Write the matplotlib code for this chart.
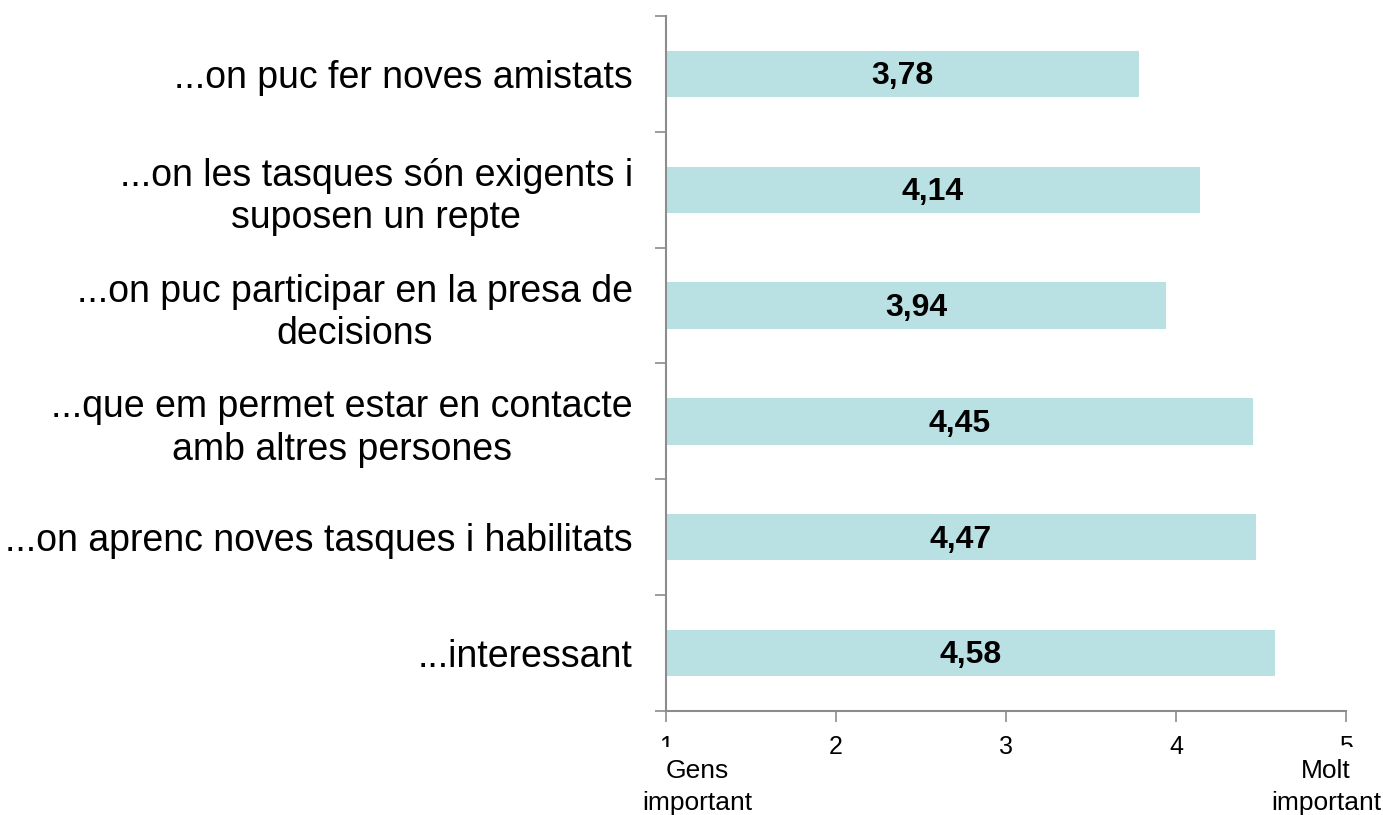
import matplotlib.pyplot as plt
import numpy as np

# Data
categories = [
    "...on puc fer noves amistats",
    "...on les tasques són exigents i\nsuposen un repte",
    "...on puc participar en la presa de\ndecisions",
    "...que em permet estar en contacte\namb altres persones",
    "...on aprenc noves tasques i habilitats",
    "...interessant",
]
values = [3.78, 4.14, 3.94, 4.45, 4.47, 4.58]
value_labels = ["3,78", "4,14", "3,94", "4,45", "4,47", "4,58"]
x_ticks = [1, 2, 3, 4, 5]
scale_low = "Gens\nimportant"
scale_high = "Molt\nimportant"

plt.rcParams['font.family'] = ['Liberation Sans', 'DejaVu Sans']

W, H = 1383, 815
fig = plt.figure(figsize=(W / 100, H / 100), dpi=100)
ax = fig.add_axes([666 / W, 1 - 711 / H, 680 / W, 695 / H])

n = len(categories)
y = np.arange(n)[::-1]
bar_color = '#B9E0E3'
axis_color = '#8C8C8C'

ax.barh(y, values, height=0.4, color=bar_color, zorder=2)
for yi, v, lab in zip(y, values, value_labels):
    ax.text((1 + v) / 2, yi - 0.02, lab, ha='center', va='center',
            fontsize=23, fontweight='bold', color='black', zorder=3)

ax.set_xlim(1, 5)
ax.set_ylim(-0.5, n - 0.5)

ax.set_xticks(x_ticks)
ax.set_xticklabels([str(t) for t in x_ticks], fontsize=18)
ax.tick_params(axis='x', direction='out', length=8, width=1.2,
               color=axis_color, pad=9)

# category labels at band centres, ticks at band boundaries
ax.set_yticks(y)
ax.set_yticklabels(categories, fontsize=27, multialignment='center',
                   linespacing=1.22)
ax.tick_params(axis='y', which='major', length=0, pad=24)
ax.set_yticks(np.arange(-0.5, n, 1), minor=True)
ax.tick_params(axis='y', which='minor', direction='out', length=8,
               width=1.2, color=axis_color)

for s in ['top', 'right']:
    ax.spines[s].set_visible(False)
for s in ['left', 'bottom']:
    ax.spines[s].set_color(axis_color)
    ax.spines[s].set_linewidth(1.5)

# end labels of the scale, white boxes cover part of the 1 and 5
box = dict(facecolor='white', edgecolor='none', pad=9)
fig.text(697 / W, 1 - 759 / H, scale_low, ha='center', va='top',
         fontsize=19, linespacing=1.4, bbox=box, zorder=5)
fig.text(1326 / W, 1 - 759 / H, scale_high, ha='center', va='top',
         fontsize=19, linespacing=1.4, bbox=box, zorder=5)

plt.savefig('out.png', dpi=100)
